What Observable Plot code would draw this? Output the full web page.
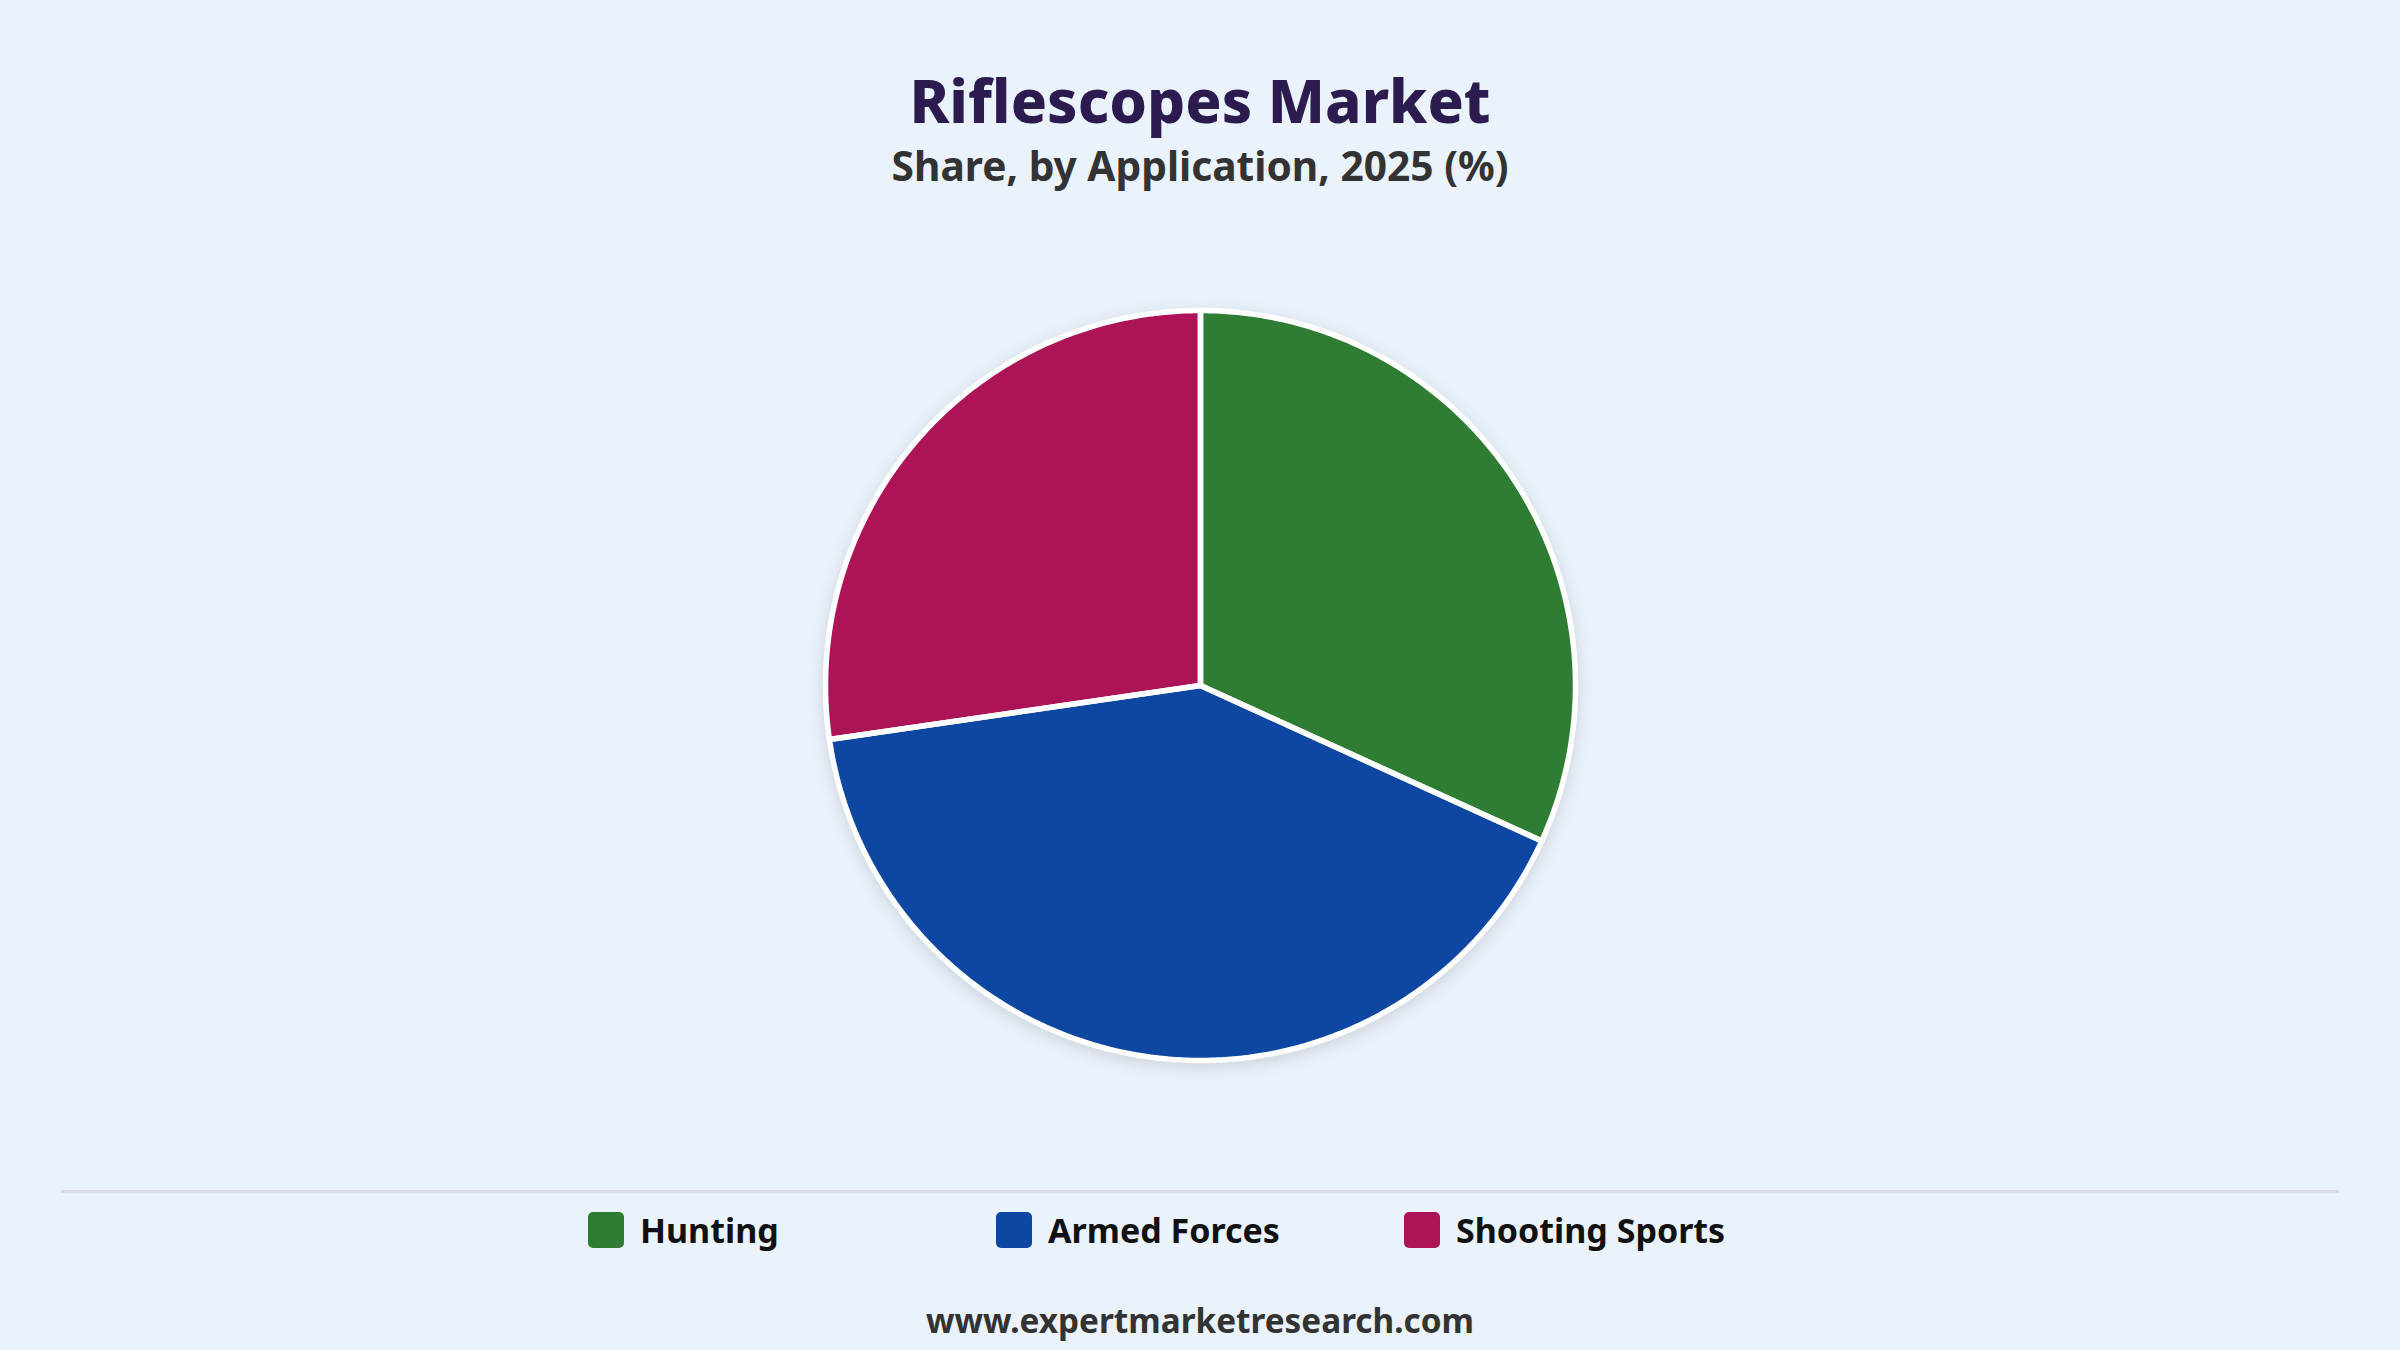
<!DOCTYPE html>
<html>
<head>
<meta charset="utf-8">
<script src="https://cdn.jsdelivr.net/npm/d3@7"></script>
<script src="https://cdn.jsdelivr.net/npm/@observablehq/plot@0.6"></script>
<style>
  html, body { margin: 0; padding: 0; }
  body { width: 2400px; height: 1350px; background: #eaf2fb; position: relative; overflow: hidden; font-family: "Noto Sans", "Open Sans", sans-serif; }
  #title { position: absolute; top: 60px; left: 0; width: 2400px; text-align: center; font-size: 60px; font-weight: 800; color: #2c1b4e; line-height: 80px; }
  #subtitle { position: absolute; top: 137px; left: 0; width: 2400px; text-align: center; font-size: 40.7px; font-weight: 700; color: #333333; line-height: 56px; }
  #chart { position: absolute; top: 285px; left: 800px; width: 800px; height: 800px; }
  #chart svg { filter: drop-shadow(0px 4px 8px rgba(0,0,0,0.13)); overflow: visible; }
  #sep { position: absolute; top: 1190px; left: 61px; width: 2278px; height: 3px; background: #d9dde3; }
  #legend { position: absolute; top: 1206px; left: 588px; display: flex; }
  .item { width: 408px; display: flex; align-items: center; height: 48px; }
  .sw { width: 36px; height: 36px; border-radius: 5px; margin-right: 16px; }
  .lab { font-size: 34px; font-weight: 700; color: #111111; }
  #footer { position: absolute; top: 1295px; left: 0; width: 2400px; text-align: center; font-size: 33.3px; font-weight: 700; color: #333333; line-height: 50px; }
</style>
</head>
<body>
<div id="title">Riflescopes Market</div>
<div id="subtitle">Share, by Application, 2025 (%)</div>
<div id="chart"></div>
<div id="sep"></div>
<div id="legend"></div>
<div id="footer">www.expertmarketresearch.com</div>
<script>
const categories = ["Hunting", "Armed Forces", "Shooting Sports"];
const shares = [31.8, 40.9, 27.3];
const colors = ["#2e7d32", "#0d47a1", "#ad1457"];

const pie = d3.pie().sort(null).value(d => d.value);
const arcs = pie(categories.map((c, i) => ({cat: c, value: shares[i]})));

// Outline points for each slice, derived from the pie angles (clockwise from 12 o'clock)
const pts = [];
for (const a of arcs) {
  const cat = a.data.cat;
  pts.push({cat, x: 0, y: 0});
  const steps = Math.max(2, Math.ceil((a.endAngle - a.startAngle) / (Math.PI / 360)));
  for (let k = 0; k <= steps; k++) {
    const t = a.startAngle + (a.endAngle - a.startAngle) * k / steps;
    pts.push({cat, x: Math.sin(t), y: Math.cos(t)});
  }
}

const chart = Plot.plot({
  width: 800,
  height: 800,
  margin: 0,
  x: {domain: [-400/375, 400/375], axis: null},
  y: {domain: [-400/375, 400/375], axis: null},
  color: {domain: categories, range: colors},
  style: {background: "transparent", overflow: "visible"},
  marks: [
    Plot.line(pts, {x: "x", y: "y", z: "cat", fill: "cat", stroke: "cat", strokeWidth: 0.5, curve: "linear-closed"}),
    Plot.line(pts, {x: "x", y: "y", z: "cat", fill: "none", stroke: "white", strokeWidth: 5.5, strokeLinejoin: "round", curve: "linear-closed"})
  ]
});
document.getElementById("chart").appendChild(chart);

const legend = document.getElementById("legend");
categories.forEach((c, i) => {
  const it = document.createElement("div");
  it.className = "item";
  it.innerHTML = `<div class="sw" style="background:${colors[i]}"></div><div class="lab">${c}</div>`;
  legend.appendChild(it);
});
</script>
</body>
</html>
